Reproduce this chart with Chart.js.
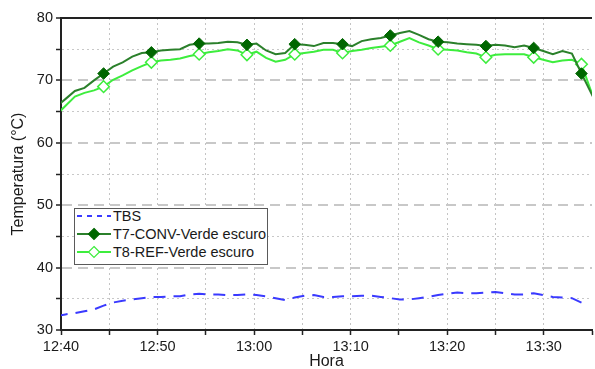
<!DOCTYPE html>
<html><head><meta charset="utf-8">
<script src="https://cdn.jsdelivr.net/npm/chart.js@4.4.1/dist/chart.umd.min.js"></script>
<style>
html,body{margin:0;padding:0;background:#fff;}
#wrap{position:relative;width:595px;height:369px;overflow:hidden;}
#legend{position:absolute;left:74px;top:208px;width:194px;height:57px;border:1px solid #5a5a5a;background:#fff;box-sizing:border-box;font:14.5px 'Liberation Sans',Arial,sans-serif;color:#1a1a1a;}
.row{position:absolute;left:0;height:18px;display:flex;align-items:center;white-space:nowrap;}
.row svg{margin-left:2px;margin-right:2px;}
</style></head>
<body>
<div id="wrap">
<canvas id="c" width="595" height="369"></canvas>
<div id="legend"></div>
</div>
<script>
// time of each sample, minutes after 12:40
const timesMin = [-0.54, 0.45, 1.44, 2.43, 3.42, 4.41, 5.40, 6.39, 7.38, 8.37,
  9.36, 10.35, 11.34, 12.33, 13.32, 14.31, 15.30, 16.29, 17.28, 18.27,
  19.26, 20.25, 21.24, 22.23, 23.22, 24.21, 25.20, 26.19, 27.18, 28.17,
  29.16, 30.15, 31.14, 32.13, 33.12, 34.11, 35.10, 36.09, 37.08, 38.07,
  39.06, 40.05, 41.04, 42.03, 43.02, 44.01, 45.00, 45.99, 46.98, 47.97,
  48.96, 49.95, 50.94, 51.93, 52.92, 53.91, 54.90, 55.89];

const tbs = [32.2, 32.5, 32.7, 33.0, 33.3, 33.9, 34.4, 34.7, 34.9, 35.1,
  35.3, 35.3, 35.4, 35.4, 35.7, 35.8, 35.7, 35.7, 35.6, 35.6,
  35.7, 35.6, 35.4, 35.1, 34.8, 35.2, 35.5, 35.6, 35.3, 35.3,
  35.4, 35.4, 35.5, 35.5, 35.3, 35.1, 34.9, 34.9, 35.1, 35.3,
  35.6, 35.8, 36.0, 35.9, 35.9, 36.0, 36.1, 35.9, 35.7, 35.7,
  35.9, 35.6, 35.3, 35.2, 35.1, 34.4];

const t7conv = [65.7, 67.0, 68.3, 68.8, 70.0, 71.1, 72.2, 72.9, 73.8, 74.4,
  74.5, 74.8, 74.9, 75.0, 75.7, 75.9, 75.9, 76.0, 76.2, 76.1,
  75.7, 75.9, 74.8, 74.2, 74.4, 75.8, 75.7, 75.5, 76.0, 76.0,
  75.8, 75.5, 76.3, 76.6, 76.8, 77.2, 77.6, 77.9, 77.3, 76.6,
  76.2, 76.1, 75.9, 75.8, 75.7, 75.5, 75.7, 75.6, 75.3, 75.6,
  75.2, 74.7, 74.2, 74.7, 74.3, 71.1, 68.0, 65.0];

const t8ref = [64.4, 65.9, 67.4, 68.0, 68.4, 69.0, 70.1, 70.8, 71.6, 72.3,
  72.9, 73.2, 73.3, 73.5, 73.9, 74.2, 74.5, 74.7, 75.0, 74.8,
  74.1, 74.6, 73.6, 73.0, 73.3, 74.2, 74.4, 74.6, 74.9, 74.9,
  74.4, 74.7, 74.9, 75.2, 75.4, 75.6, 76.2, 76.8, 76.1, 75.6,
  75.0, 74.9, 74.8, 74.5, 74.3, 73.7, 74.1, 74.2, 74.2, 74.2,
  73.7, 73.3, 72.9, 73.2, 73.3, 72.6, 68.3, 65.0];

const xTickLabels = ['12:40', '12:50', '13:00', '13:10', '13:20', '13:30'];
const yTickLabels = ['30', '40', '50', '60', '70', '80'];
const seriesNames = ['TBS', 'T7-CONV-Verde escuro', 'T8-REF-Verde escuro'];

const FONT = "'Liberation Sans', Arial, sans-serif";
const toPts = vals => vals.map((v, i) => ({x: timesMin[i], y: v}));
const markerRadius = r => ctx => (ctx.dataIndex > 0 && ctx.dataIndex % 5 === 0) ? r : 0;

const datasets = [
  {label: seriesNames[0], data: toPts(tbs), borderColor: '#3a3aff', borderWidth: 2,
   borderDash: [12, 8], pointRadius: 0, tension: 0},
  {label: seriesNames[1], data: toPts(t7conv), borderColor: '#2b802b', borderWidth: 2,
   pointStyle: 'rectRot', pointRadius: markerRadius(5.8), pointHoverRadius: 0,
   pointBackgroundColor: '#006600', pointBorderColor: '#006600', pointBorderWidth: 1, tension: 0},
  {label: seriesNames[2], data: toPts(t8ref), borderColor: '#3ded3d', borderWidth: 2,
   pointStyle: 'rectRot', pointRadius: markerRadius(5.8), pointHoverRadius: 0,
   pointBackgroundColor: '#ffffff', pointBorderColor: '#3ded3d', pointBorderWidth: 1.5, tension: 0}
];

const chart = new Chart(document.getElementById('c'), {
  type: 'line',
  data: {datasets: datasets},
  options: {
    responsive: false, animation: false, devicePixelRatio: 1,
    clip: {left: 0, right: 0, top: 8, bottom: 8},
    layout: {padding: {top: 18, right: 0, left: 0, bottom: 0}},
    plugins: {legend: {display: false}, tooltip: {enabled: false}},
    scales: {
      x: {
        type: 'linear', min: 0, max: 55,
        afterFit: s => { s.height = 39; },
        ticks: {stepSize: 5, autoSkip: false, maxRotation: 0, padding: 3,
          color: '#1a1a1a', font: {family: FONT, size: 14.5},
          callback: v => (v % 10 === 0) ? xTickLabels[v / 10] : ''},
        grid: {
          color: ctx => (ctx.tick && ctx.tick.value > 0 && ctx.tick.value < 55) ? '#c4c4c4' : 'rgba(0,0,0,0)',
          lineWidth: 1, tickLength: 5, tickColor: '#222', tickWidth: 1.5
        },
        border: {display: true, color: '#222', width: 2, dash: ctx => ctx.tick ? [2, 3] : []},
        title: {display: true, text: 'Hora', color: '#1a1a1a', font: {family: FONT, size: 16},
          padding: {top: 0, bottom: -2}}
      },
      y: {
        min: 30, max: 80,
        afterFit: s => { s.width = 61; },
        ticks: {stepSize: 5, autoSkip: false, padding: 3, color: '#1a1a1a',
          font: {family: FONT, size: 14.5},
          callback: v => (v % 10 === 0) ? yTickLabels[(v - 30) / 10] : ''},
        grid: {
          color: ctx => {
            if (!ctx.tick) return '#c4c4c4';
            const v = ctx.tick.value;
            if (v === 30) return 'rgba(0,0,0,0)';
            if (v === 80) return '#222';
            return '#c8c8c8';
          },
          lineWidth: ctx => (ctx.tick && (ctx.tick.value === 80 || ctx.tick.value % 10 === 0)) ? 2 : 1,
          tickLength: 5, tickColor: '#222', tickWidth: 1.5
        },
        border: {display: true, color: '#222', width: 2,
          dash: ctx => {
            if (!ctx.tick) return [];
            const v = ctx.tick.value;
            if (v === 80 || v === 30) return [];
            return v % 10 === 0 ? [10, 6] : [2, 3];
          }},
        title: {display: true, text: 'Temperatura (°C)', color: '#1a1a1a',
          font: {family: FONT, size: 16}, padding: {top: 9, bottom: 0}}
      }
    }
  }
});

// HTML legend built from the chart's datasets
const legend = document.getElementById('legend');
const rowTops = [-2, 16, 34];
chart.data.datasets.forEach((d, i) => {
  const row = document.createElement('div');
  row.className = 'row';
  row.style.top = rowTops[i] + 'px';
  const ns = 'http://www.w3.org/2000/svg';
  const svg = document.createElementNS(ns, 'svg');
  svg.setAttribute('width', '34'); svg.setAttribute('height', '14');
  const ln = document.createElementNS(ns, 'line');
  ln.setAttribute('x1', '0'); ln.setAttribute('x2', '34');
  ln.setAttribute('y1', '7'); ln.setAttribute('y2', '7');
  ln.setAttribute('stroke', d.borderColor); ln.setAttribute('stroke-width', '2');
  if (d.borderDash) ln.setAttribute('stroke-dasharray', '5,5');
  svg.appendChild(ln);
  if (d.pointStyle === 'rectRot') {
    const p = document.createElementNS(ns, 'polygon');
    p.setAttribute('points', '17,1.5 22.5,7 17,12.5 11.5,7');
    p.setAttribute('fill', d.pointBackgroundColor);
    p.setAttribute('stroke', d.pointBorderColor);
    p.setAttribute('stroke-width', '1.2');
    svg.appendChild(p);
  }
  row.appendChild(svg);
  const sp = document.createElement('span');
  sp.textContent = d.label;
  row.appendChild(sp);
  legend.appendChild(row);
});
</script>
</body></html>
